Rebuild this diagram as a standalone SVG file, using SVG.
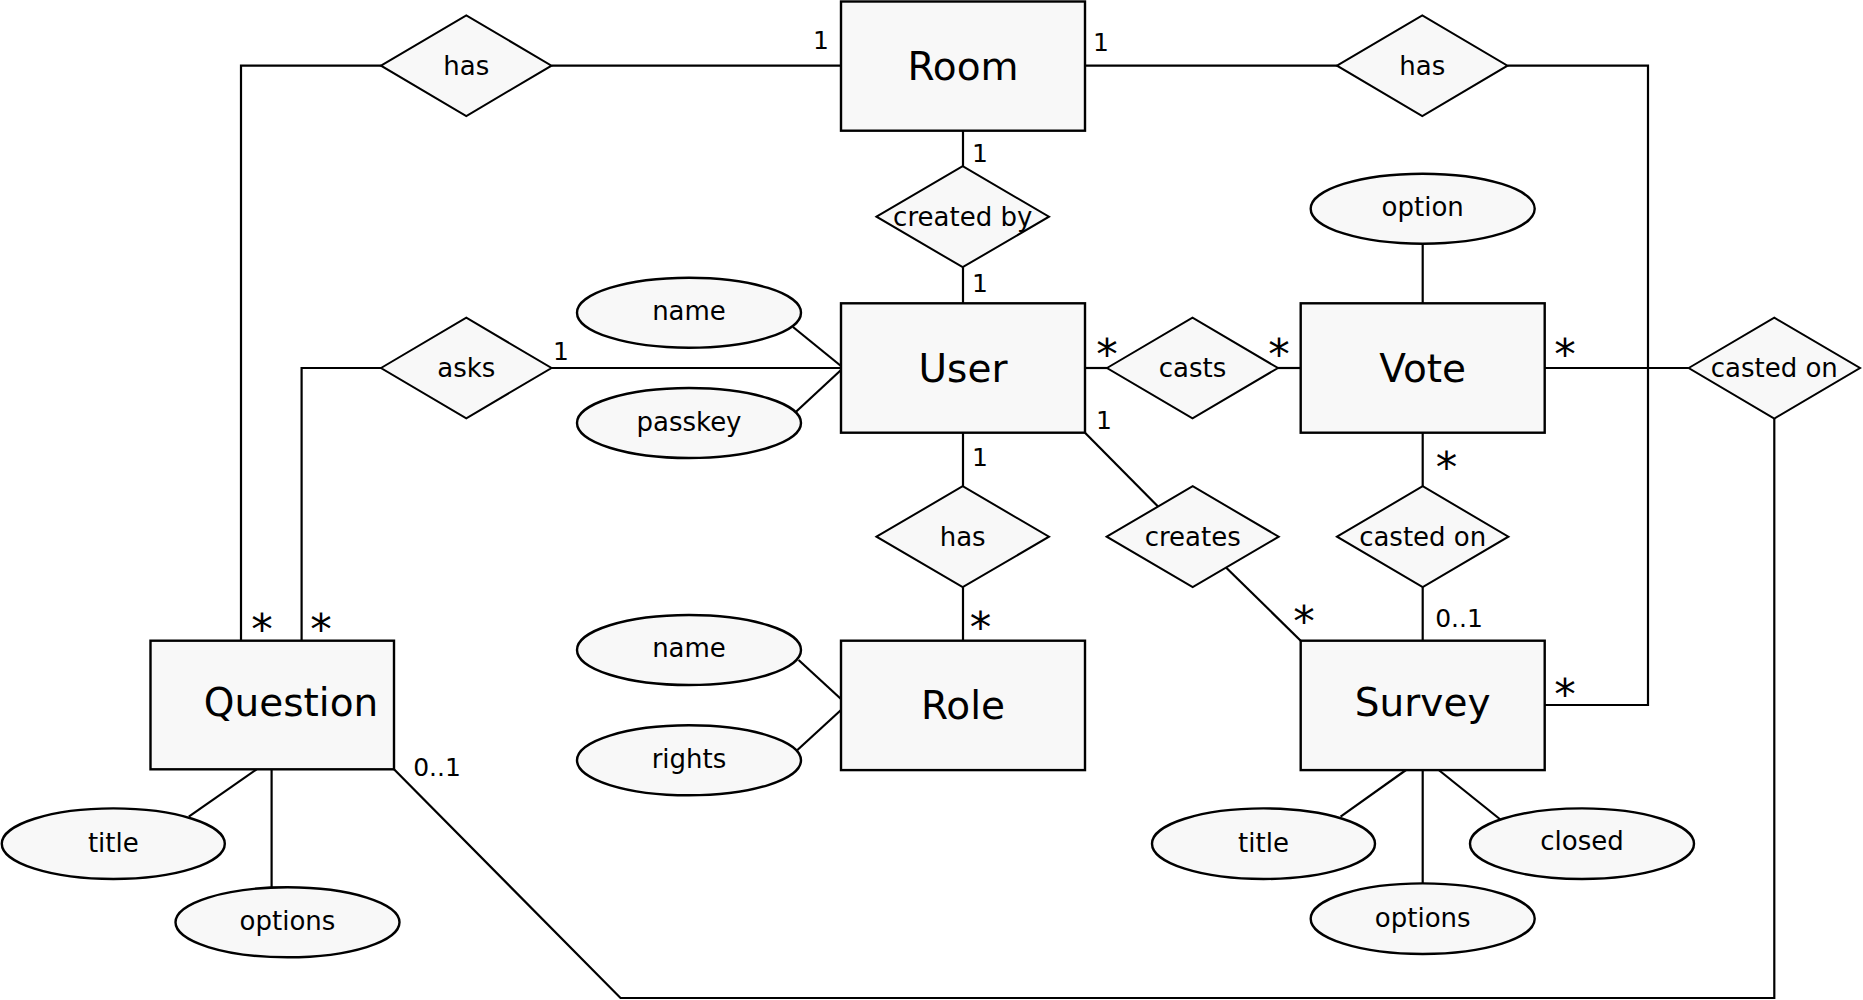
<svg xmlns="http://www.w3.org/2000/svg" width="1863" height="1000" viewBox="0 0 1863 1000">
<style>
.ent{fill:#f8f8f8;stroke:#000;stroke-width:2.4}
.rel{fill:#f8f8f8;stroke:#000;stroke-width:2}
.att{fill:#f8f8f8;stroke:#000;stroke-width:2.4}
.c{fill:none;stroke:#000;stroke-width:2.2}
text{font-family:"DejaVu Sans","Liberation Sans",sans-serif;fill:#000}
.et{font-size:39px;text-anchor:middle}
.rt{font-size:26px;text-anchor:middle}
.lb{font-size:25px;text-anchor:middle}
.st{font-size:43px;text-anchor:middle}
</style>
<rect width="1863" height="1000" fill="#fff"/>
<g id="connectors">
<polyline class="c" points="241,640.7 241,65.7 381,65.7"/>
<line class="c" x1="551.5" y1="65.7" x2="841" y2="65.7"/>
<line class="c" x1="1085" y1="65.7" x2="1337" y2="65.7"/>
<polyline class="c" points="1507.5,65.7 1648,65.7 1648,705 1544.7,705"/>
<line class="c" x1="963" y1="130.7" x2="963" y2="166.2"/>
<line class="c" x1="963" y1="267.2" x2="963" y2="303.3"/>
<line class="c" x1="841" y1="368" x2="551.5" y2="368"/>
<polyline class="c" points="381,368 301.6,368 301.6,640.7"/>
<line class="c" x1="793" y1="327" x2="841" y2="366"/>
<line class="c" x1="796" y1="411.7" x2="841" y2="370"/>
<line class="c" x1="1085" y1="368" x2="1107" y2="368"/>
<line class="c" x1="1278" y1="368" x2="1300.7" y2="368"/>
<line class="c" x1="1422.7" y1="244" x2="1422.7" y2="303.3"/>
<line class="c" x1="1544.7" y1="368" x2="1688.7" y2="368"/>
<polyline class="c" points="1774.3,418.5 1774.3,998 620.5,998 394,769.3"/>
<line class="c" x1="963" y1="432.7" x2="963" y2="486.2"/>
<line class="c" x1="963" y1="587.2" x2="963" y2="640.7"/>
<line class="c" x1="1085" y1="432.7" x2="1158" y2="506.5"/>
<line class="c" x1="1226" y1="567.5" x2="1300.7" y2="640.7"/>
<line class="c" x1="1422.7" y1="432.7" x2="1422.7" y2="486.2"/>
<line class="c" x1="1422.7" y1="587.2" x2="1422.7" y2="640.7"/>
<line class="c" x1="798.6" y1="660" x2="841" y2="699"/>
<line class="c" x1="797.4" y1="750" x2="841" y2="710"/>
<line class="c" x1="1406" y1="770" x2="1340.6" y2="816.7"/>
<line class="c" x1="1422.7" y1="770" x2="1422.7" y2="883.3"/>
<line class="c" x1="1438.7" y1="770" x2="1501" y2="820"/>
<line class="c" x1="256.6" y1="769.3" x2="188.8" y2="816.7"/>
<line class="c" x1="271.6" y1="769.3" x2="271.6" y2="887.3"/>
</g>
<g id="Room"><rect class="ent" x="841" y="1.5" width="244" height="129.2"/><text class="et" x="963" y="80">Room</text></g>
<g id="User"><rect class="ent" x="841" y="303.3" width="244" height="129.4"/><text class="et" x="963" y="382">User</text></g>
<g id="Vote"><rect class="ent" x="1300.7" y="303.3" width="244" height="129.4"/><text class="et" x="1422.7" y="382">Vote</text></g>
<g id="Role"><rect class="ent" x="841" y="640.7" width="244" height="129.4"/><text class="et" x="963" y="719">Role</text></g>
<g id="Survey"><rect class="ent" x="1300.7" y="640.7" width="244" height="129.4"/><text class="et" x="1422.7" y="716">Survey</text></g>
<g id="Question"><rect class="ent" x="150.5" y="640.7" width="243.5" height="128.6"/><text class="et" x="291" y="716">Question</text></g>
<g id="has_room_question"><polygon class="rel" points="381,65.7 466.3,15.3 551.5,65.7 466.3,116"/><text class="rt" x="466.3" y="75">has</text></g>
<g id="has_room_survey"><polygon class="rel" points="1337,65.7 1422.3,15.3 1507.5,65.7 1422.3,116"/><text class="rt" x="1422.3" y="75">has</text></g>
<g id="created_by"><polygon class="rel" points="876.5,216.7 962.7,166.2 1049,216.7 962.7,267.2"/><text class="rt" x="962.7" y="226">created by</text></g>
<g id="asks"><polygon class="rel" points="381,368 466.3,317.7 551.5,368 466.3,418.3"/><text class="rt" x="466.3" y="377">asks</text></g>
<g id="casts"><polygon class="rel" points="1107,368 1192.5,317.7 1278,368 1192.5,418.3"/><text class="rt" x="1192.5" y="377">casts</text></g>
<g id="casted_on_question"><polygon class="rel" points="1688.7,368 1774.3,317.7 1860,368 1774.3,418.5"/><text class="rt" x="1774.3" y="377">casted on</text></g>
<g id="has_user_role"><polygon class="rel" points="876.5,536.7 962.7,486.2 1049,536.7 962.7,587.2"/><text class="rt" x="962.7" y="546">has</text></g>
<g id="creates"><polygon class="rel" points="1106.7,536.7 1192.7,486.2 1278.7,536.7 1192.7,587.2"/><text class="rt" x="1192.7" y="546">creates</text></g>
<g id="casted_on_survey"><polygon class="rel" points="1337,536.7 1422.7,486.2 1508.4,536.7 1422.7,587.2"/><text class="rt" x="1422.7" y="546">casted on</text></g>
<g id="user_name"><ellipse class="att" cx="689" cy="312.7" rx="112" ry="35"/><text class="rt" x="689" y="320">name</text></g>
<g id="user_passkey"><ellipse class="att" cx="689" cy="423" rx="112" ry="35"/><text class="rt" x="689" y="431">passkey</text></g>
<g id="vote_option"><ellipse class="att" cx="1422.7" cy="208.7" rx="112" ry="35"/><text class="rt" x="1422.7" y="216">option</text></g>
<g id="role_name"><ellipse class="att" cx="689" cy="650" rx="112" ry="35"/><text class="rt" x="689" y="657">name</text></g>
<g id="role_rights"><ellipse class="att" cx="689" cy="760.3" rx="112" ry="35"/><text class="rt" x="689" y="768">rights</text></g>
<g id="survey_title"><ellipse class="att" cx="1263.5" cy="843.7" rx="111.5" ry="35.3"/><text class="rt" x="1263.5" y="852">title</text></g>
<g id="survey_closed"><ellipse class="att" cx="1582" cy="843.7" rx="112" ry="35.3"/><text class="rt" x="1582" y="850">closed</text></g>
<g id="survey_options"><ellipse class="att" cx="1422.7" cy="918.7" rx="112" ry="35.3"/><text class="rt" x="1422.7" y="927">options</text></g>
<g id="question_title"><ellipse class="att" cx="113.3" cy="843.7" rx="111.5" ry="35.3"/><text class="rt" x="113.3" y="852">title</text></g>
<g id="question_options"><ellipse class="att" cx="287.5" cy="922.3" rx="112" ry="35"/><text class="rt" x="287.5" y="930">options</text></g>
<g id="labels">
<text class="lb" x="821" y="49">1</text>
<text class="lb" x="1101" y="51">1</text>
<text class="lb" x="980" y="162">1</text>
<text class="lb" x="980" y="292">1</text>
<text class="lb" x="561" y="360">1</text>
<text class="lb" x="1104" y="429">1</text>
<text class="lb" x="980" y="466">1</text>
<text class="lb" x="1459" y="627">0..1</text>
<text class="lb" x="437" y="776">0..1</text>
<text class="st" x="1107" y="369">*</text>
<text class="st" x="1279" y="369">*</text>
<text class="st" x="1565" y="369">*</text>
<text class="st" x="1446.5" y="482">*</text>
<text class="st" x="980.6" y="642">*</text>
<text class="st" x="1304" y="636">*</text>
<text class="st" x="1565" y="709">*</text>
<text class="st" x="262" y="644">*</text>
<text class="st" x="321" y="644">*</text>
</g>
</svg>
